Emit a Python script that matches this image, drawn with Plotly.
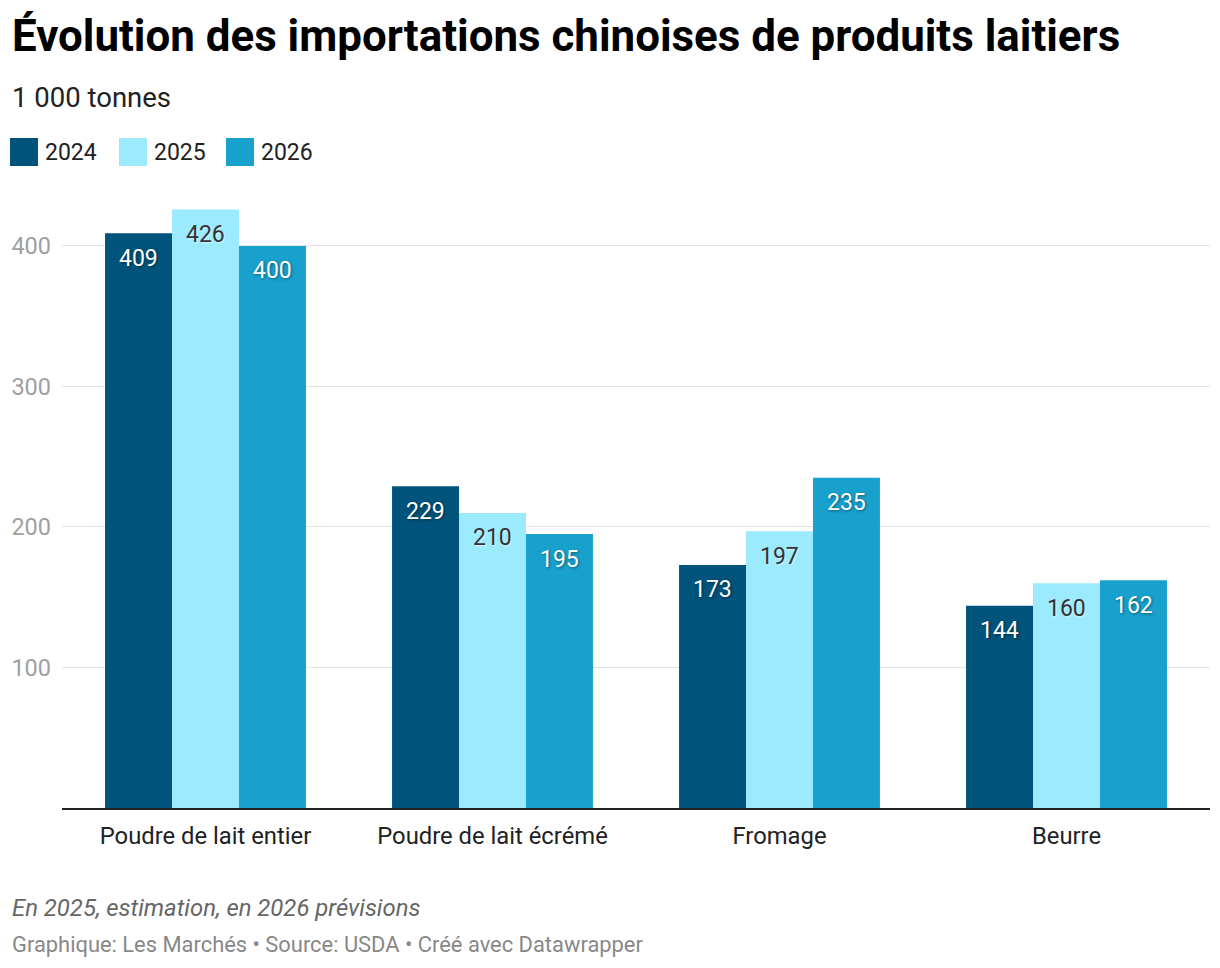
import plotly.graph_objects as go

categories = ["Poudre de lait entier", "Poudre de lait écrémé", "Fromage", "Beurre"]
years = ["2024", "2025", "2026"]
v2024 = [409, 229, 173, 144]
v2025 = [426, 210, 197, 160]
v2026 = [400, 195, 235, 162]
series = [v2024, v2025, v2026]
colors = ["#00537a", "#9beafe", "#18a1cd"]
text_colors = ["#ffffff", "#333333", "#ffffff"]
shadows = ["1px 1px 3px rgba(0,0,0,0.45)", "1px 1px 2px rgba(255,255,255,0.6)", "1px 1px 3px rgba(0,0,0,0.45)"]
y_ticks = [100, 200, 300, 400]

FONT = "Roboto"
W, H = 1220, 968
ML, MR, MT, MB = 62, 10, 200, 160
PW, PH = W - ML - MR, H - MT - MB
BARGAP = 0.3
bar_px = PW / len(categories) * (1 - BARGAP) / len(series)

fig = go.Figure()
for name, vals, c in zip(years, series, colors):
    fig.add_trace(go.Bar(
        x=categories, y=vals, name=name, marker=dict(color=c, line=dict(width=0)),
        showlegend=False, hoverinfo="x+y+name",
    ))

fig.update_layout(
    barmode="group", bargap=BARGAP, bargroupgap=0,
    width=W, height=H,
    margin=dict(l=ML, r=MR, t=MT, b=MB),
    paper_bgcolor="white", plot_bgcolor="white",
    font=dict(family=FONT, color="#222"),
    xaxis=dict(showgrid=False, showline=True, linecolor="#222", linewidth=2,
               ticks="", tickfont=dict(family=FONT, size=23.8, color="#222"),
               range=[-0.5, 3.5], ticklabelstandoff=5),
    yaxis=dict(range=[0, 432.7], tickvals=y_ticks, showgrid=True, gridcolor="#e3e3e3",
               gridwidth=1, zeroline=False, showline=False, ticks="",
               tickfont=dict(family=FONT, size=23.5, color="#a0a0a0"),
               ticklabelstandoff=10),
)

def px_to_paper(px, py):
    return (px - ML) / PW, (H - MB - py) / PH

anns = []
texts = [
    ("<b>Évolution des importations chinoises de produits laitiers</b>", 10, 36, 43.9, "#000000"),
    ("1 000 tonnes", 10, 97, 27.5, "#222222"),
    ("<i>En 2025, estimation, en 2026 prévisions</i>", 10, 908, 23.9, "#666666"),
    ("Graphique: Les Marchés • Source: USDA • Créé avec Datawrapper", 10, 944, 21.9, "#888888"),
]
for t, x, y, s, col in texts:
    ax, ay = px_to_paper(x, y)
    anns.append(dict(text=t, x=ax, y=ay, xref="paper", yref="paper",
                     xanchor="left", yanchor="middle", showarrow=False,
                     font=dict(family=FONT, size=s, color=col)))

# bar value labels, anchored to each bar's category/value
for i, (vals, tc, sh) in enumerate(zip(series, text_colors, shadows)):
    off = (i - (len(series) - 1) / 2) * bar_px
    for cat, v in zip(categories, vals):
        anns.append(dict(text=str(v), x=cat, y=v, xref="x", yref="y",
                         xshift=off, yshift=-25, xanchor="center", yanchor="middle",
                         showarrow=False,
                         font=dict(family=FONT, size=23, color=tc, shadow=sh)))

# manual legend
shapes = []
leg_x = [10, 119, 226]
for lx, name, c in zip(leg_x, years, colors):
    x0, y0 = px_to_paper(lx, 166)
    x1, y1 = px_to_paper(lx + 28, 138)
    shapes.append(dict(type="rect", xref="paper", yref="paper",
                       x0=x0, x1=x1, y0=y0, y1=y1,
                       fillcolor=c, line=dict(width=0)))
    tx, ty = px_to_paper(lx + 33, 152)
    anns.append(dict(text=name, x=tx, y=ty,
                     xref="paper", yref="paper", xanchor="left", yanchor="middle",
                     showarrow=False, font=dict(family=FONT, size=23, color="#222")))

fig.update_layout(annotations=anns, shapes=shapes)
fig.write_html("out.html")
